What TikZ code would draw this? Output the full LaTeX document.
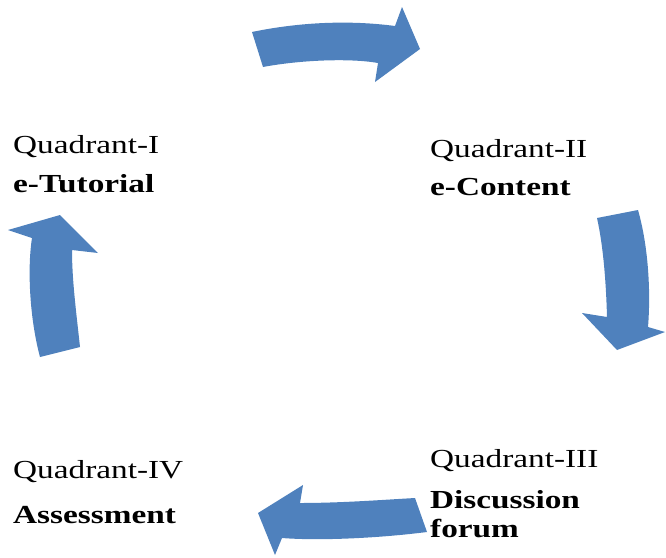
\documentclass[tikz,border=0pt]{standalone}
\usepackage{fontspec}
\setmainfont[FakeStretch=1.28]{Liberation Serif}
\definecolor{arrowblue}{RGB}{79,129,189}
\begin{document}
\begin{tikzpicture}[x=1pt,y=-1pt,
  lbl/.style={anchor=base west,inner sep=0pt,font=\fontsize{26}{30}\selectfont},
  blbl/.style={lbl,font=\fontsize{26}{30}\selectfont\bfseries},
  bigarrow/.style={fill=arrowblue,draw=none}]
\useasboundingbox (0,0) rectangle (666,557);
% arrows
\fill[bigarrow] (252,32) .. controls (300,22) and (350,20) .. (395,26)
  -- (402,7) -- (420,49) -- (375,82) -- (378,63)
  .. controls (350,58) and (300,60) .. (263,67) -- cycle;
\fill[bigarrow] (597,218) -- (638,210) .. controls (648,245) and (651,290) .. (648,327)
  -- (665,332) -- (617,350) -- (582,313) -- (607,317)
  .. controls (606,280) and (603,245) .. (597,218) -- cycle;
\fill[bigarrow] (415,498) .. controls (380,500) and (340,503) .. (300,503)
  -- (303,485) -- (258,513) -- (275,555) -- (282,538)
  .. controls (320,541) and (380,538) .. (427,532) -- cycle;
\fill[bigarrow] (40,357) -- (80,347) .. controls (76,310) and (72,280) .. (72,250)
  -- (98,253) -- (60,215) -- (8,230) -- (32,238)
  .. controls (27,270) and (30,320) .. (40,357) -- cycle;
% labels
\node[lbl]  (q1)  at (13,153) {Quadrant-I};
\node[blbl] (q1b) at (13,192) {e-Tutorial};
\node[lbl]  (q2)  at (430,157) {Quadrant-II};
\node[blbl] (q2b) at (430,195) {e-Content};
\node[lbl]  (q3)  at (430,467) {Quadrant-III};
\node[blbl] (q3b) at (430,508) {Discussion};
\node[blbl] (q3c) at (430,537) {forum};
\node[lbl]  (q4)  at (13,478) {Quadrant-IV};
\node[blbl] (q4b) at (13,523) {Assessment};
\end{tikzpicture}
\end{document}
